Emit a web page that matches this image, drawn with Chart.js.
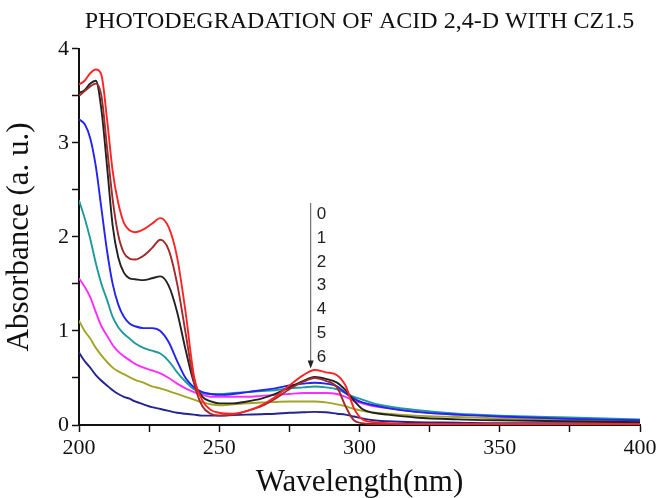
<!DOCTYPE html>
<html>
<head>
    <title>Photodegradation 2,4-D</title>
    <script src="https://cdn.jsdelivr.net/npm/chart.js"></script>
    <style>
        body { margin: 0; background: #fff; }
        #wrap { width: 662px; height: 498px; }
    </style>
</head>
<body>
    <div id="wrap"><canvas id="myChart" width="662" height="498"></canvas></div>

    <script>
        // wavelength samples (nm)
        const wavelength = [200, 202, 204, 206, 208, 210, 212, 214, 216, 218, 220, 223, 226, 229, 232, 235, 238, 241, 244, 247,
                            250, 255, 260, 265, 270, 275, 280, 284, 288, 292, 295, 298, 301, 305, 310, 320, 335, 350, 375, 400];

        // absorbance, one array per curve
        const curve0 = [3.62, 3.66, 3.74, 3.78, 3.72, 3.25, 2.70, 2.36, 2.15, 2.07, 2.05, 2.08, 2.14, 2.20, 2.10, 1.78, 1.20, 0.52, 0.26, 0.16,
                        0.13, 0.12, 0.15, 0.21, 0.30, 0.42, 0.53, 0.585, 0.56, 0.53, 0.42, 0.18, 0.06, 0.03, 0.02, 0.01, 0.01, 0.01, 0.01, 0.01];
        const curve1 = [3.50, 3.55, 3.60, 3.63, 3.50, 2.95, 2.40, 2.02, 1.83, 1.77, 1.76, 1.80, 1.88, 1.97, 1.86, 1.50, 0.98, 0.45, 0.20, 0.12,
                        0.10, 0.11, 0.15, 0.20, 0.28, 0.38, 0.46, 0.50, 0.47, 0.40, 0.20, 0.05, 0.02, 0.01, 0.01, 0.01, 0.01, 0.01, 0.01, 0.01];
        const curve2 = [3.53, 3.56, 3.63, 3.66, 3.35, 2.75, 2.12, 1.78, 1.62, 1.56, 1.55, 1.54, 1.56, 1.58, 1.48, 1.20, 0.80, 0.45, 0.30, 0.25,
                        0.23, 0.23, 0.25, 0.28, 0.33, 0.40, 0.47, 0.51, 0.49, 0.45, 0.37, 0.26, 0.17, 0.13, 0.11, 0.08, 0.06, 0.05, 0.04, 0.03];
        const curve3 = [3.25, 3.20, 3.05, 2.75, 2.30, 1.85, 1.50, 1.28, 1.15, 1.08, 1.05, 1.03, 1.03, 1.00, 0.88, 0.68, 0.50, 0.40, 0.35, 0.33,
                        0.32, 0.33, 0.35, 0.37, 0.39, 0.42, 0.44, 0.45, 0.44, 0.41, 0.34, 0.28, 0.24, 0.21, 0.18, 0.14, 0.11, 0.09, 0.065, 0.05];
        const curve4 = [2.39, 2.20, 1.98, 1.72, 1.50, 1.33, 1.15, 1.04, 0.97, 0.92, 0.87, 0.82, 0.79, 0.76, 0.68, 0.56, 0.46, 0.38, 0.34, 0.33,
                        0.33, 0.34, 0.35, 0.36, 0.37, 0.39, 0.40, 0.41, 0.40, 0.38, 0.34, 0.30, 0.27, 0.23, 0.20, 0.16, 0.12, 0.10, 0.08, 0.06];
        const curve5 = [1.56, 1.47, 1.36, 1.20, 1.05, 0.95, 0.85, 0.78, 0.73, 0.69, 0.65, 0.61, 0.58, 0.55, 0.50, 0.44, 0.39, 0.35, 0.32, 0.30,
                        0.30, 0.30, 0.30, 0.31, 0.32, 0.33, 0.34, 0.34, 0.34, 0.33, 0.30, 0.26, 0.23, 0.20, 0.18, 0.14, 0.11, 0.09, 0.065, 0.05];
        const curve6 = [1.11, 1.00, 0.92, 0.82, 0.74, 0.67, 0.61, 0.57, 0.54, 0.51, 0.48, 0.45, 0.41, 0.39, 0.36, 0.33, 0.30, 0.27, 0.24, 0.22,
                        0.21, 0.22, 0.23, 0.24, 0.245, 0.25, 0.25, 0.25, 0.24, 0.22, 0.20, 0.17, 0.15, 0.13, 0.12, 0.10, 0.085, 0.07, 0.055, 0.04];
        const curve7 = [0.77, 0.68, 0.61, 0.53, 0.47, 0.42, 0.37, 0.33, 0.30, 0.28, 0.25, 0.22, 0.19, 0.17, 0.15, 0.13, 0.12, 0.11, 0.10, 0.10,
                        0.10, 0.105, 0.11, 0.115, 0.12, 0.13, 0.135, 0.14, 0.135, 0.12, 0.11, 0.09, 0.07, 0.05, 0.04, 0.03, 0.025, 0.02, 0.02, 0.02];

        const curves = [curve0, curve1, curve2, curve3, curve4, curve5, curve6, curve7];
        const colors = ['#ff2424', '#a12a2a', '#222222', '#2323f5', '#1f9a9a', '#ff2cff', '#a3a324', '#232392'];

        // time labels next to the arrow
        const timeLabels = ['0', '1', '2', '3', '4', '5', '6'];
        const xTicks = [200, 250, 300, 350, 400];
        const yTicks = [0, 1, 2, 3, 4];

        // arrow + numbers drawn in data coordinates
        const arrowPlugin = {
            id: 'arrowLabels',
            afterDatasetsDraw(chart) {
                const {ctx, scales: {x, y}} = chart;
                const ax = x.getPixelForValue(282.6);
                const top = y.getPixelForValue(2.36);
                const bot = y.getPixelForValue(0.6);
                ctx.save();
                ctx.strokeStyle = '#555';
                ctx.fillStyle = '#222';
                ctx.lineWidth = 1;
                ctx.beginPath();
                ctx.moveTo(ax, top);
                ctx.lineTo(ax, bot - 6);
                ctx.stroke();
                ctx.beginPath();
                ctx.moveTo(ax - 3, bot - 8);
                ctx.lineTo(ax + 3, bot - 8);
                ctx.lineTo(ax, bot);
                ctx.closePath();
                ctx.fill();
                ctx.font = '17px "Liberation Sans", Arial, sans-serif';
                ctx.textAlign = 'left';
                ctx.textBaseline = 'middle';
                const step = (2.24 - 0.72) / (timeLabels.length - 1);
                timeLabels.forEach((t, i) => {
                    ctx.fillText(t, ax + 6, y.getPixelForValue(2.24 - i * step));
                });
                ctx.restore();
            }
        };

        const serif = '"Liberation Serif", "Times New Roman", serif';

        var ctx = document.getElementById('myChart').getContext('2d');
        var myChart = new Chart(ctx, {
            type: 'line',
            data: {
                labels: wavelength,
                datasets: curves.map((c, i) => ({
                    label: String(i),
                    data: wavelength.map((w, k) => ({x: w, y: c[k]})),
                    borderColor: colors[i],
                    borderWidth: 1.9,
                    pointRadius: 0,
                    fill: false,
                    cubicInterpolationMode: 'monotone'
                }))
            },
            options: {
                responsive: false,
                animation: false,
                layout: { padding: { top: 0, right: 22, left: 0, bottom: 0 } },
                plugins: {
                    legend: { display: false },
                    tooltip: { enabled: false },
                    title: {
                        display: true,
                        fullSize: false,
                        text: 'PHOTODEGRADATION OF ACID 2,4-D WITH CZ1.5',
                        color: '#111',
                        font: { family: serif, size: 24, weight: 'normal', lineHeight: 1.2 },
                        padding: { top: 7, bottom: 13 }
                    }
                },
                scales: {
                    x: {
                        type: 'linear',
                        min: 200,
                        max: 400,
                        afterFit: s => { s.height = 73; },
                        ticks: {
                            stepSize: 25,
                            color: '#111',
                            font: { family: serif, size: 22 },
                            padding: 3,
                            maxRotation: 0,
                            callback: v => xTicks.includes(v) ? v : ''
                        },
                        grid: { drawOnChartArea: false, drawTicks: true, tickLength: 7, color: '#111', tickWidth: 1.5 },
                        border: { display: true, color: '#111', width: 2 },
                        title: {
                            display: true,
                            text: 'Wavelength(nm)',
                            color: '#111',
                            font: { family: serif, size: 31, lineHeight: 1 },
                            padding: { top: 0, bottom: 0 }
                        }
                    },
                    y: {
                        min: 0,
                        max: 4,
                        afterFit: s => { s.width = 79; },
                        ticks: {
                            stepSize: 0.5,
                            color: '#111',
                            font: { family: serif, size: 22 },
                            padding: 3,
                            callback: v => yTicks.includes(v) ? v : ''
                        },
                        grid: { drawOnChartArea: false, drawTicks: true, tickLength: 7, color: '#111', tickWidth: 1.5 },
                        border: { display: true, color: '#111', width: 2 },
                        title: {
                            display: true,
                            text: 'Absorbance (a. u.)',
                            color: '#111',
                            font: { family: serif, size: 31, lineHeight: 1 },
                            padding: { top: 4, bottom: 0 }
                        }
                    }
                }
            },
            plugins: [arrowPlugin]
        });
    </script>
</body>
</html>
